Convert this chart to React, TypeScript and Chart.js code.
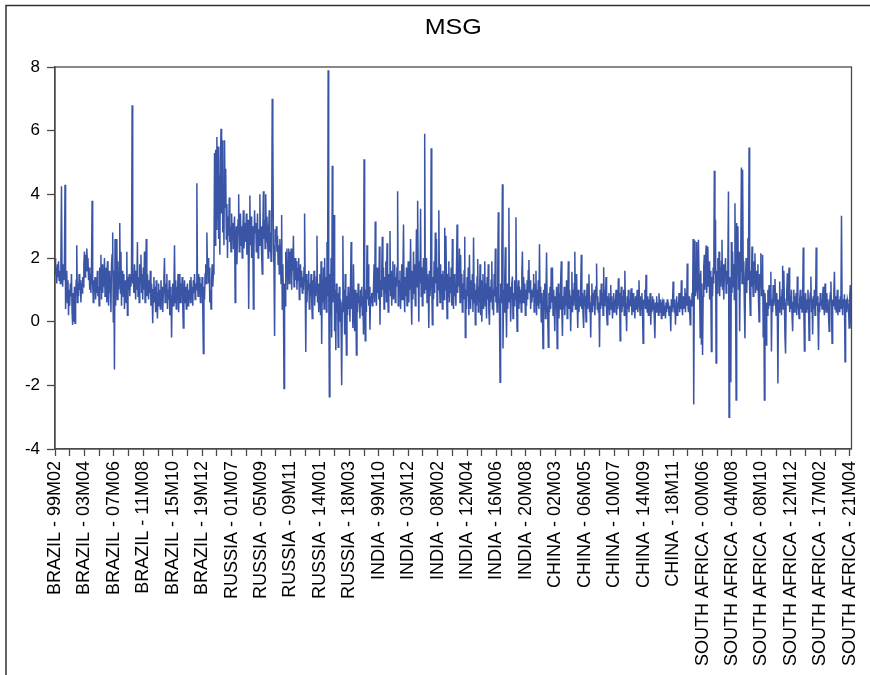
import { useEffect, useRef } from "react";
import { Chart, registerables } from "chart.js";

Chart.register(...registerables);

const titleText = "MSG";

// BRAZIL 1999M02 - 2021M07
const brazil = [
  2.0, 1.5, 1.7, 1.2, 1.8, 1.4, 1.9, 1.3, 1.6, 1.2,
  1.9, 4.25, 1.5, 1.1, 1.8, 1.3, 1.7, 4.3, 0.4, 1.4,
  1.6, 0.6, 1.3, 0.2, 1.0, 0.5, 1.2, 0.8, 1.5, 0.3,
  -0.1, 0.9, 0.0, 1.1, -0.05, 0.7, 1.3, 2.4, 0.6, 1.2,
  0.8, 1.5, 1.0, 1.3, 0.6, 1.2, 0.9, 1.4, 1.1, 1.8,
  2.2, 1.4, 2.1, 1.6, 2.3, 1.9, 2.0, 1.3, 1.7, 1.0,
  1.5, 0.9, 1.6, 3.8, 1.2, 0.6, 1.3, 1.0, 1.4, 0.7,
  1.2, 0.9, 1.6, 0.8, 1.1, 0.5, 1.7, 1.0, 2.1, 0.7,
  1.8, 0.9, 1.4, 1.1, 2.0, 0.8, 1.3, 1.7, 0.6, 1.9,
  1.2, 0.5, 1.6, 0.9, 1.4, 0.3, 1.8, 2.1, 2.8, 0.0,
  1.6, -1.5, 2.6, 0.5, 1.5, 2.6, 0.7, 1.9, 1.0, 1.4,
  3.1, 0.9, 2.2, 0.5, 1.6, 1.1, 0.8, 1.5, 0.4, 1.3,
  1.0, 0.6, 2.2, 0.2, 1.4, 1.0, 1.5, 0.8, 1.3, 1.1,
  1.6, 6.8, 1.2, 1.5, 0.9, 1.8, 1.3, 0.7, 1.6, 1.0,
  2.5, 0.8, 1.4, 0.6, 1.8, 1.2, 2.1, 0.9, 1.5, 0.7,
  1.7, 1.0, 2.2, 0.6, 1.4, 2.6, 0.8, 1.5, 1.1, 0.7,
  1.3, 0.9, 1.6, 0.5, 1.2, 0.8, -0.05, 1.0, 1.4, 0.6,
  1.1, 0.3, 1.3, 0.7, 0.1, 0.9, 1.2, 0.5, 1.0, 0.4,
  1.3, 0.8, 1.1, 0.3, 0.9, 1.4, 2.0, 0.6, 1.2, 0.8,
  1.5, 0.4, 1.0, 0.7, 1.3, 0.2, 0.9, 1.1, -0.5, 0.8,
  1.2, 0.5, 1.0, 2.4, 0.6, 1.3, 0.4, 1.1, 0.7, 1.5,
  0.3, 1.0, 1.5, 0.6, 1.2, 0.8, 1.4, 0.5, -0.2, 0.9,
  1.3, 0.6, 1.1, 0.4, 0.9, 1.2, 0.5, 1.0, 0.7, 1.3,
  0.6, 1.4, 0.8, 1.1, 0.5, 1.3, 0.9, 1.5, 0.7, 1.2,
  1.0, 4.35, 1.3, 0.8, 1.5, 1.0, 1.4, 0.6, 1.2, 0.9,
  1.4, 0.5, -1.0, 1.1, 0.7, 1.5, 1.8, 1.2, 2.8, 1.6,
  2.0, 1.2, 1.7, 0.6, 1.0, 0.4, 1.3, 1.8, 1.1, 1.5,
];

// RUSSIA 1999M01 - 2021M07
const russia = [
  1.8, 5.3, 2.4, 5.4, 2.9, 5.8, 3.2, 5.5, 2.6, 4.6,
  2.1, 5.0, 6.06, 3.4, 5.7, 2.8, 4.2, 2.4, 5.7, 3.6,
  4.8, 2.6, 3.7, 2.0, 3.3, 2.7, 3.9, 2.5, 3.0, 2.2,
  3.4, 2.6, 3.1, 2.3, 2.9, 3.3, 0.6, 2.5, 3.0, 1.8,
  2.7, 3.2, 4.0, 2.2, 2.9, 3.4, 2.4, 3.0, 2.0, 2.8,
  3.5, 2.3, 2.7, 3.1, 2.5, 3.4, 2.1, 2.9, 3.2, 0.4,
  2.6, 3.96, 2.4, 3.3, 2.0, 3.0, 2.7, 0.4, 2.3, 3.5,
  2.8, 3.1, 2.2, 2.6, 3.4, 2.0, 2.9, 2.4, 4.0, 2.5,
  3.0, 2.1, 1.5, 2.8, 4.1, 2.6, 3.2, 2.3, 4.0, 2.5,
  3.3, 2.7, 2.0, 2.9, 3.5, 2.2, 2.8, 1.9, 2.6, 7.0,
  5.9, 2.4, 1.7, -0.45, 2.9, 2.5, 3.0, 2.2, 2.7, 1.8,
  2.4, 1.5, 2.6, 2.0, 1.2, 3.35, 0.4, 1.8, 0.8, -2.1,
  1.2, 0.5, 2.2, 1.4, 2.3, 1.0, 1.9, 2.3, 1.2, 2.2,
  1.5, 2.3, 1.0, 2.1, 1.6, 2.7, 1.1, 1.8, 2.0, 1.3,
  1.9, 1.0, 1.7, 1.3, 2.0, 0.7, 1.5, 1.8, 1.1, 1.6,
  0.9, 1.4, 1.0, 1.7, 3.4, 1.2, -0.95, 1.5, 0.6, 1.3,
  1.0, 1.6, 0.4, 1.2, 0.8, 1.5, 0.7, 0.1, 1.3, 0.9,
  1.6, 0.5, 1.1, 0.8, 1.4, 2.7, 0.6, 1.2, 0.3, 1.0,
  1.5, 0.2, 1.9, -0.7, 1.3, 0.6, 1.7, 0.4, 2.0, 0.9,
  1.4, 0.3, 2.5, 0.8, 7.9, 1.2, -2.36, 1.5, 0.2, 2.0,
  -0.5, 4.9, 0.6, 1.8, 3.35, -0.3, 1.0, -0.9, 1.2, 0.3,
  0.9, -0.8, 0.5, 1.1, 0.0, 0.7, -0.2, -2.0, 0.6, 2.7,
  0.3, 1.0, -0.4, 1.5, 0.5, -1.05, 0.8, 0.2, 1.1, 0.4,
  0.9, 0.0, 1.2, 2.5, 0.4, 1.0, -0.2, 1.8, 0.6, -0.3,
  1.0, 0.5, -1.05, 0.9, 0.3, 1.2, 0.6, 0.8, 0.1, 1.0,
  0.5, 1.1, 0.2, 0.8, -0.4, 5.1, 0.6, -0.6, 1.0, 0.3,
  2.4, 0.7, 1.8, 0.5, 1.1, -0.25, 0.8, 0.6, 0.9, 0.5, 0.7,
];

// INDIA 1999M01 - 2021M07
const india = [
  1.0, 1.8, 0.6, 3.15, 1.4, 0.5, 1.7, 0.9, 1.5, 0.7,
  2.36, -0.1, 1.3, 0.8, 1.6, 2.67, 1.0, 1.7, 0.4, 1.4,
  0.9, 1.9, 0.6, 2.46, 1.2, 0.3, 1.5, 1.0, 2.85, 0.8,
  1.6, 0.5, 1.3, 1.9, 0.7, 1.2, 1.8, 0.6, 1.4, 1.1,
  1.7, 4.1, 0.5, 1.3, 0.9, 1.6, 0.4, 1.2, 1.8, 0.7,
  1.5, 3.05, 1.0, 0.3, 1.4, 0.8, 1.7, 0.5, 1.2, 1.9,
  0.6, 1.5, 1.0, 2.6, 0.8, -0.1, 1.6, 0.7, 2.2, 0.9,
  1.8, 0.5, 1.3, 2.9, 1.1, 3.8, 1.4, 0.0, 1.9, 1.2,
  3.55, 0.8, 1.7, 0.5, 1.4, 2.0, 0.9, 5.9, 1.3, 1.0,
  2.0, 0.6, 1.5, 1.1, -0.2, 1.6, 0.8, 1.3, 5.45, 1.2,
  -0.1, 1.4, 0.7, 1.9, 0.9, 2.8, 1.2, 2.6, 0.5, 1.7,
  1.0, 3.5, 1.3, 0.6, 1.8, 0.9, 1.5, 0.4, 1.6, 1.1,
  0.7, 2.95, 1.0, 2.7, 1.3, 0.1, 1.5, 0.8, 1.9, 0.6,
  1.4, 0.9, 1.7, 0.5, 2.6, 1.0, 0.4, 1.5, 0.8, 1.2,
  0.5, 1.6, 3.05, 0.9, 1.8, 1.1, 2.3, 0.6, 2.1, 0.8,
  1.5, 0.3, 1.2, 0.7, 1.6, 2.67, -0.5, 1.0, 0.4, 1.4,
  0.8, 1.7, 0.2, 2.1, 0.9, 0.4, 1.3, 0.7, 1.5, 0.3,
  2.64, 0.6, 1.2, -0.1, 1.0, 0.5, 1.4, 1.97, 0.3, 1.1,
  0.6, 1.8, 0.2, 1.3, 0.0, 0.9, 1.5, 0.4, 1.0, 1.9,
  0.5, 1.2, 0.1, 1.4, 0.7, 1.8, 0.3, -0.1, 1.1, 0.6,
  1.3, 1.9, 0.4, 1.0, 0.2, 1.5, 0.8, 2.3, 0.6, 1.1,
  0.3, 1.4, 3.44, 0.9, 0.4, -1.9, 1.2, 0.6, 2.0, 4.32,
  -0.84, 1.0, 0.3, 1.4, 2.34, 0.7, -0.5, 1.2, 0.4, 1.0,
  3.58, 0.6, 1.1, 0.0, 0.8, 1.2, 1.42, 0.1, 0.9, 0.5,
  1.3, 0.7, 3.28, 0.8, -0.3, 0.9, 1.3, 0.4, 1.1, 0.6,
  1.0, 0.3, 1.5, 2.2, 0.6, 1.4, 0.8, 1.2, 0.2, 1.0,
  0.5, 1.3, 0.7, 1.6, 1.94, 0.9, 1.3, 0.4, 1.0, 0.6, 0.9,
];

// CHINA 1999M01 - 2021M07
const china = [
  0.8, 1.5, 0.3, 1.2, 0.6, 1.6, 0.2, 1.0, 0.5, 1.3,
  0.4, 2.43, 0.6, 1.1, 0.0, 0.9, 0.3, -0.84, 1.0, 0.4,
  1.2, 0.1, 0.8, 2.17, 0.5, 0.2, -0.8, 0.9, 0.3, 1.1,
  0.4, 1.7, 0.6, 1.7, 0.2, 1.0, 0.5, -0.3, 0.8, 0.4,
  1.1, -0.84, 0.6, 1.2, 0.1, 0.9, 0.4, 1.3, 1.9, 0.3,
  -0.45, 0.8, 0.4, 1.1, 0.2, 0.9, 0.5, 1.3, 0.1, 0.7,
  1.9, 0.4, 1.0, 0.6, -0.3, 0.8, 1.57, 0.3, 1.0, 0.5,
  1.2, 2.2, 0.4, 0.9, 1.5, 0.6, -0.2, 1.0, 0.3, 0.8,
  0.5, 1.1, 2.1, 0.4, 0.9, 0.2, -0.2, 1.0, 0.5, 0.8,
  0.0, 0.7, 1.2, 0.4, 0.9, 1.49, 0.3, 0.6, -0.5, 0.8,
  1.2, 0.3, 0.9, 0.5, 1.0, 0.2, 0.7, 1.1, 1.83, 0.4,
  0.8, 0.3, 0.6, -0.8, 1.0, 0.4, 1.2, 0.5, 0.9, 0.2,
  1.71, 0.5, 1.0, 0.6, 1.4, 0.3, -0.1, 0.8, 0.4, 0.9,
  0.2, 0.7, 1.15, 0.4, 0.8, 0.1, 0.6, 0.9, 0.3, 0.7,
  0.5, 1.0, 0.2, 0.8, 0.4, 1.36, 0.5, 0.9, -0.6, 0.7,
  1.1, 0.3, 0.8, 0.5, 1.0, 0.2, 1.6, 0.6, 0.4, -0.3,
  0.8, 0.4, 1.0, 0.3, 0.7, 0.5, 0.9, 1.05, 0.2, 0.6,
  0.9, 0.3, 0.7, 0.1, 0.8, 0.4, 0.6, 1.0, 0.3, 0.7,
  1.3, 0.5, 0.2, 0.8, 0.4, 0.9, 0.3, -0.68, 0.7, 0.5,
  1.0, 0.4, 1.47, 0.6, 0.3, 0.8, 0.2, 0.7, 0.5, 0.9,
  -0.1, 0.6, 0.3, 0.8, 0.4, 0.7, 0.1, -0.52, 0.6, 0.3,
  0.8, 0.4, 0.6, 0.2, 0.89, 0.5, 0.3, 0.7, 0.1, 0.5,
  0.6, 0.2, 0.7, 0.4, 0.5, 0.1, 0.6, 0.3, 0.7, 0.4,
  0.6, 0.2, 0.5, 0.3, -0.3, 0.7, 0.3, 0.6, 1.26, 0.5,
  0.3, 0.7, -0.1, 0.5, 0.8, 0.2, 0.6, 0.4, 0.9, 0.3,
  0.7, 0.4, 1.3, 0.5, 0.2, 0.8, 0.4, 0.6, 1.05, 0.3,
  0.9, 0.5, 1.83, 0.6, 0.3, 0.8, 0.4, -0.1, 0.7, 0.5, 0.9,
];

// SOUTH AFRICA 1999M01 - 2021M07
const southAfrica = [
  0.5, 2.6, -2.6, 1.2, 2.55, 0.8, 1.0, 2.5, 1.3, 0.7,
  2.57, 1.5, 0.9, -0.5, 1.6, -0.7, 1.2, -1.05, 0.8, 1.7,
  2.1, 1.0, 1.8, 2.39, 0.9, 1.5, 2.35, 1.1, 1.9, 0.7,
  1.6, 1.0, -0.94, 1.4, 0.8, 1.7, 1.2, 4.74, 1.5, 3.2,
  -1.3, 1.6, 0.9, 2.0, 1.3, 2.2, 0.8, 1.7, 1.1, 1.9,
  2.57, 1.0, 1.8, 0.7, 1.4, 1.5, 2.0, 0.9, 1.6, 1.2,
  1.8, 4.09, -3.0, 1.4, 0.6, -1.9, 2.5, 0.9, 2.2, 1.1,
  1.8, 0.7, 3.72, 1.3, -2.46, 3.1, 1.5, 3.0, 1.0, 2.2,
  -0.3, 1.6, 2.4, 4.84, 1.2, 4.77, 1.8, 1.9, 0.5, -0.52,
  1.4, 2.0, 0.9, 1.7, 2.62, 1.3, 5.47, 1.0, 0.2, 1.6,
  1.1, 2.36, 1.4, 0.8, 1.9, 1.2, 2.15, 0.9, 1.6, 1.3,
  1.0, 1.8, 0.7, 0.0, 1.5, 1.1, 2.15, 0.8, 1.6, 2.1,
  -0.47, 1.0, -2.46, 0.9, 0.4, -0.73, 0.6, 0.2, 1.0, 0.4,
  1.15, 0.5, 0.8, 1.57, -0.94, 0.7, 0.3, 1.15, 0.5, 0.9,
  1.34, 0.6, 0.2, 0.9, 0.4, -1.94, 0.7, 0.3, 1.26, 0.5,
  0.8, 0.2, 1.0, 1.76, 0.4, 1.6, 0.6, -0.5, -1.0, 0.7,
  0.9, 1.52, 0.5, 1.1, 1.7, 0.3, 0.8, 0.4, 1.0, 0.2,
  -0.3, 0.6, 1.0, 0.3, 0.8, 0.5, 0.9, 0.2, 1.42, 0.6,
  0.4, 0.1, 0.7, 1.0, 0.4, 0.8, 0.3, 0.6, 2.33, 0.5,
  -0.92, 0.6, 0.9, 0.3, 0.7, 0.4, 1.0, 0.5, -0.58, 0.6,
  0.9, 1.42, 0.3, 0.7, -0.4, 0.8, 0.4, 1.0, 0.2, 0.6,
  2.33, 0.5, 0.8, 0.2, -0.89, 0.6, 0.3, 0.9, 0.5, 0.7,
  0.4, 0.8, 1.1, 0.5, 0.2, 1.2, 0.6, 0.3, 0.9, 0.4,
  0.7, 0.2, -0.3, 0.6, 0.9, 1.26, 0.4, -0.68, 0.7, 0.5,
  0.9, 1.57, 0.4, 0.8, 0.3, 0.6, 1.0, 0.2, 0.7, 0.5,
  0.3, 0.8, 0.4, 3.33, 0.6, 0.2, 0.7, 0.5, 0.86, -1.26,
  0.5, 0.7, 0.3, 0.7, 0.6, 0.4, -0.2, 0.8, 1.15, 0.3, -0.2,
];

// labels every 50 observations
const tickLabels = [
  "BRAZIL - 99M02", "BRAZIL - 03M04", "BRAZIL - 07M06", "BRAZIL - 11M08",
  "BRAZIL - 15M10", "BRAZIL - 19M12",
  "RUSSIA - 01M07", "RUSSIA - 05M09", "RUSSIA - 09M11", "RUSSIA - 14M01",
  "RUSSIA - 18M03",
  "INDIA - 99M10", "INDIA - 03M12", "INDIA - 08M02", "INDIA - 12M04",
  "INDIA - 16M06", "INDIA - 20M08",
  "CHINA - 02M03", "CHINA - 06M05", "CHINA - 10M07", "CHINA - 14M09",
  "CHINA - 18M11",
  "SOUTH AFRICA - 00M06", "SOUTH AFRICA - 04M08", "SOUTH AFRICA - 08M10",
  "SOUTH AFRICA - 12M12", "SOUTH AFRICA - 17M02", "SOUTH AFRICA - 21M04",
];

const series = [brazil, russia, india, china, southAfrica];

const FONT = "'Liberation Sans', Arial, Helvetica, sans-serif";
const AXIS = "#4a4a4a";

export default function App() {
  const ref = useRef<HTMLCanvasElement | null>(null);

  useEffect(() => {
    if (!ref.current) return;
    const values = series.flat();
    const points = values.map((y, x) => ({ x, y }));
    const lastIndex = values.length - 1;
    const labelStep = 50;
    const tickStep = 25;
    const lastTick = (tickLabels.length - 1) * labelStep;

    const framePlugin = {
      id: "frame",
      afterDraw(chart: any) {
        const { ctx, chartArea } = chart;
        ctx.save();
        ctx.strokeStyle = AXIS;
        ctx.lineWidth = 1.3;
        ctx.strokeRect(
          chartArea.left,
          chartArea.top,
          chartArea.right - chartArea.left,
          chartArea.bottom - chartArea.top
        );
        // outer window frame
        ctx.strokeStyle = "#333";
        ctx.lineWidth = 1.5;
        ctx.beginPath();
        ctx.moveTo(6, 675);
        ctx.lineTo(6, 5.5);
        ctx.lineTo(870, 5.5);
        ctx.stroke();
        // title
        const cx = (chartArea.left + chartArea.right) / 2;
        ctx.translate(cx, 33.5);
        ctx.scale(1.14, 1);
        ctx.fillStyle = "#000";
        ctx.font = `22px ${FONT}`;
        ctx.textAlign = "center";
        ctx.textBaseline = "alphabetic";
        ctx.fillText(titleText, 0, 0);
        ctx.restore();
      },
    };

    const chart = new Chart(ref.current, {
      type: "line",
      data: {
        datasets: [
          {
            data: points,
            borderColor: "#3a55a6",
            borderWidth: 1.5,
            pointRadius: 0,
            tension: 0,
            fill: false,
          },
        ],
      },
      options: {
        animation: false,
        responsive: false,
        maintainAspectRatio: false,
        layout: { padding: { top: 67, right: 18.5, left: 0, bottom: 0 } },
        plugins: {
          legend: { display: false },
          tooltip: { enabled: false },
          title: { display: false },
        },
        scales: {
          x: {
            type: "linear",
            min: 0,
            max: lastIndex,
            afterFit: (scale: any) => {
              scale.height = 226;
              scale.paddingLeft = 0;
              scale.paddingRight = 0;
            },
            afterBuildTicks: (scale: any) => {
              const t = [];
              for (let v = 0; v <= lastTick; v += tickStep) t.push({ value: v });
              scale.ticks = t;
            },
            ticks: {
              autoSkip: false,
              minRotation: 90,
              maxRotation: 90,
              padding: 5,
              color: "#000",
              font: { family: FONT, size: 18 },
              callback: (value: any) =>
                value % labelStep === 0 ? tickLabels[value / labelStep] ?? "" : "",
            },
            grid: {
              drawOnChartArea: false,
              drawTicks: true,
              tickLength: 7,
              tickColor: AXIS,
              tickWidth: 1.3,
            },
            border: { display: true, color: AXIS, width: 1.3 },
          },
          y: {
            type: "linear",
            min: -4,
            max: 8,
            afterFit: (scale: any) => {
              scale.width = 55;
              scale.paddingTop = 0;
              scale.paddingBottom = 0;
            },
            ticks: {
              stepSize: 2,
              padding: 7,
              color: "#000",
              font: { family: FONT, size: 17 },
            },
            grid: {
              drawOnChartArea: false,
              drawTicks: true,
              tickLength: 8,
              tickColor: AXIS,
              tickWidth: 1.3,
            },
            border: { display: true, color: AXIS, width: 1.3 },
          },
        },
      },
      plugins: [framePlugin],
    });
    return () => chart.destroy();
  }, []);

  return (
    <div style={{ position: "absolute", left: 0, top: 0, width: 870, height: 675, background: "#fff" }}>
      <canvas ref={ref} width={870} height={675} style={{ display: "block" }} />
    </div>
  );
}
